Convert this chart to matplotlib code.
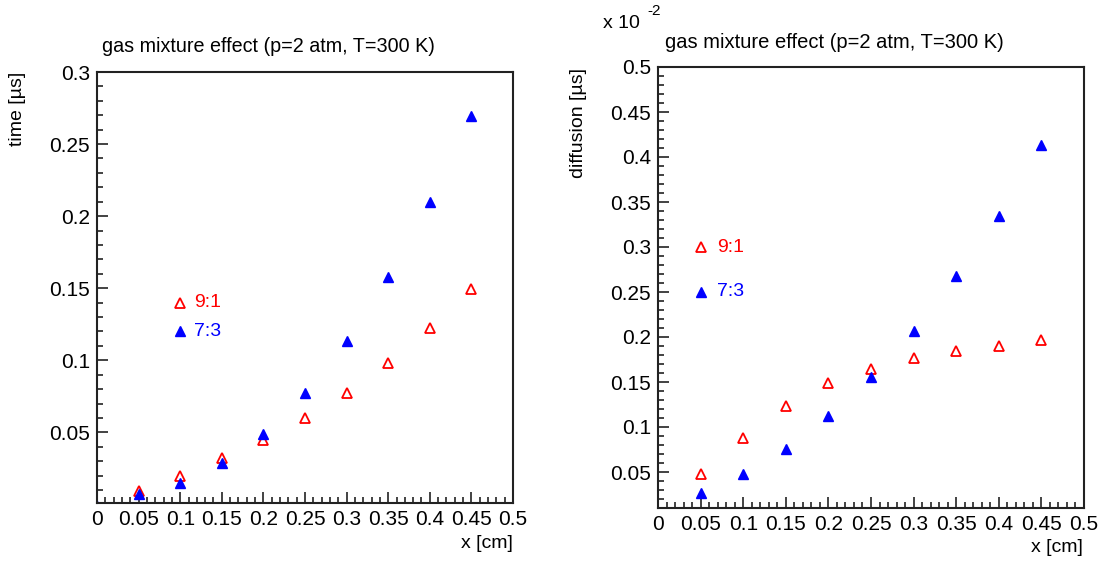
import matplotlib
matplotlib.use('Agg')
import matplotlib.pyplot as plt
from matplotlib.ticker import MultipleLocator, FixedLocator

plt.rcParams['font.family'] = ['Liberation Sans', 'DejaVu Sans']

# data
x_cm = [0.05, 0.10, 0.15, 0.20, 0.25, 0.30, 0.35, 0.40, 0.45]

time_91 = [0.009, 0.0196, 0.032, 0.0447, 0.060, 0.0776, 0.0984, 0.1226, 0.1495]
time_73 = [0.0074, 0.015, 0.0286, 0.0488, 0.0776, 0.1134, 0.1578, 0.2097, 0.2694]
# a 7:3 point sits right in the lower left corner of the time panel
x_origin = [0.0]
time_origin = [0.0]

diff_91 = [0.048, 0.088, 0.123, 0.1485, 0.165, 0.1764, 0.184, 0.190, 0.1967]
diff_73 = [0.027, 0.048, 0.076, 0.112, 0.1557, 0.2067, 0.268, 0.3344, 0.4136]

title = 'gas mixture effect (p=2 atm, T=300 K)'
labels = ['9:1', '7:3']
x_ticks = [0, 0.05, 0.1, 0.15, 0.2, 0.25, 0.3, 0.35, 0.4, 0.45, 0.5]
x_ticklabels = ['0', '0.05', '0.1', '0.15', '0.2', '0.25', '0.3', '0.35', '0.4', '0.45', '0.5']
time_ticks = [0.05, 0.1, 0.15, 0.2, 0.25, 0.3]
diff_ticks = [0.05, 0.1, 0.15, 0.2, 0.25, 0.3, 0.35, 0.4, 0.45, 0.5]

red = '#ff0000'
blue = '#0000ff'
fs = 14
W, H = 1100, 561

fig = plt.figure(figsize=(11, 5.61), dpi=100)
ax1 = fig.add_axes([97/W, 1 - 503/H, (513-97)/W, (503-72)/H])
ax2 = fig.add_axes([658/W, 1 - 508/H, (1084-658)/W, (508-67)/H])


def style(ax, ymin, ymax, yticks):
    ax.set_xlim(0, 0.5)
    ax.set_ylim(ymin, ymax)
    ax.xaxis.set_major_locator(FixedLocator(x_ticks))
    ax.set_xticklabels(x_ticklabels)
    ax.yaxis.set_major_locator(FixedLocator(yticks))
    ax.set_yticklabels([('%g' % t) for t in yticks])
    ax.xaxis.set_minor_locator(MultipleLocator(0.01))
    ax.yaxis.set_minor_locator(MultipleLocator(0.01))
    ax.tick_params(which='both', direction='in', top=False, right=False,
                   labelsize=15, width=1.2, color='#222222', pad=5)
    ax.tick_params(which='major', length=8)
    ax.tick_params(which='minor', length=4)
    for s in ax.spines.values():
        s.set_linewidth(1.5)
        s.set_color('#222222')


def legend(ax, x, ys, tx):
    ax.plot([x], [ys[0]], ls='none', marker='^', ms=7, mfc='none', mec=red, mew=1.3)
    ax.plot([x], [ys[1]], ls='none', marker='^', ms=7, mfc=blue, mec=blue)
    ax.text(tx, ys[0], labels[0], color=red, fontsize=fs, va='center')
    ax.text(tx, ys[1], labels[1], color=blue, fontsize=fs, va='center')


# left panel: time
ax1.plot(x_cm, time_91, ls='none', marker='^', ms=7, mfc='none', mec=red, mew=1.3)
ax1.plot(x_cm, time_73, ls='none', marker='^', ms=7, mfc=blue, mec=blue)
ax1.plot(x_origin, time_origin, ls='none', marker='^', ms=4, mfc=blue, mec=blue)
legend(ax1, 0.1, [0.14, 0.12], 0.117)
style(ax1, 0.001, 0.3, time_ticks)
fig.text(102/W, 1 - 46/H, title, fontsize=14.2, va='center', ha='left')
fig.text(17/W, 1 - 72/H, 'time [µs]', fontsize=fs, rotation=90, va='top', ha='center')
fig.text(513/W, 1 - 543/H, 'x [cm]', fontsize=fs, va='center', ha='right')

# right panel: diffusion
ax2.plot(x_cm, diff_91, ls='none', marker='^', ms=7, mfc='none', mec=red, mew=1.3)
ax2.plot(x_cm, diff_73, ls='none', marker='^', ms=7, mfc=blue, mec=blue)
legend(ax2, 0.05, [0.30, 0.25], 0.069)
style(ax2, 0.01, 0.5, diff_ticks)
fig.text(665/W, 1 - 42/H, title, fontsize=14.5, va='center', ha='left')
fig.text(578/W, 1 - 68/H, 'diffusion [µs]', fontsize=fs, rotation=90, va='top', ha='center')
fig.text(1083/W, 1 - 547/H, 'x [cm]', fontsize=fs, va='center', ha='right')
fig.text(603/W, 1 - 23/H, 'x 10', fontsize=fs, va='center', ha='left')
fig.text(647/W, 1 - 11/H, '-2', fontsize=11, va='center', ha='left')

fig.savefig('out.png', dpi=100)
